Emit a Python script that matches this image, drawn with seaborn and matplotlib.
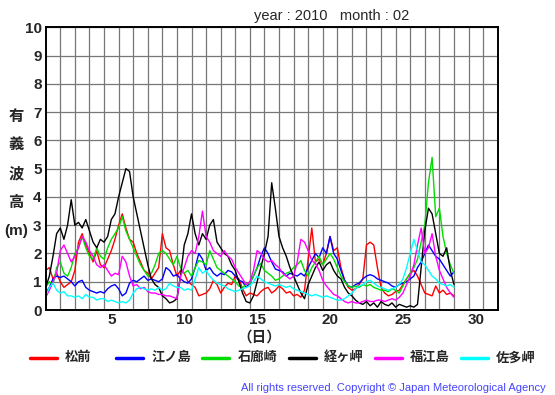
import numpy as np
import pandas as pd
import matplotlib
matplotlib.use("Agg")
import matplotlib.pyplot as plt
import seaborn as sns

# significant wave height, Feb 2010, one value every 6 hours (day 1 00h .. day 29 00h)
hours = np.arange(0, 28 * 24 + 1, 6)

matsumae = [1.4, 1.5, 1.1, 1.3, 1.0, 0.8, 0.9, 1.0, 1.4, 2.4, 2.7, 2.3, 2.0, 1.7, 2.1, 1.6,
            1.5, 1.8, 2.1, 2.5, 3.0, 3.4, 2.9, 2.5, 2.4, 2.0, 1.7, 1.4, 1.3, 1.1, 1.3, 1.5,
            2.7, 2.2, 2.1, 1.6, 1.2, 1.4, 1.3, 1.0, 0.9, 0.8, 0.5, 0.55, 0.6, 0.75, 1.05, 0.9,
            0.6, 0.8, 0.95, 0.9, 1.2, 1.1, 0.75, 0.5, 0.6, 0.55, 0.5, 0.65, 0.75, 0.8, 0.6, 0.7,
            0.85, 0.75, 0.6, 0.65, 0.5, 0.55, 0.45, 0.7, 1.8, 2.9, 1.7, 1.8, 1.6, 2.0, 2.6, 2.1,
            2.2, 1.5, 1.05, 0.8, 0.7, 0.75, 0.9, 1.1, 2.3, 2.4, 2.3, 1.5, 0.8, 0.6, 0.5, 0.55,
            0.65, 0.7, 0.9, 1.1, 1.3, 1.4, 1.2, 0.9, 0.6, 0.55, 0.5, 0.85, 0.6, 0.7, 0.55, 0.6,
            0.5]
enoshima = [0.6, 0.8, 1.1, 1.2, 1.15, 1.2, 1.1, 1.0, 0.85, 1.0, 1.05, 0.8, 0.7, 0.65, 0.6, 0.65,
            0.6, 0.75, 0.85, 0.9, 0.75, 0.5, 0.6, 0.95, 1.05, 1.0, 1.1, 1.2, 1.05, 1.1, 1.05, 1.0,
            1.1, 1.5, 1.4, 1.2, 1.25, 1.1, 1.0, 0.95, 1.1, 1.5, 2.0, 1.8, 1.4, 1.5, 1.3, 1.2,
            1.3, 1.25, 1.4, 1.35, 1.2, 1.05, 1.0, 0.8, 0.95, 1.2, 1.5, 1.9, 2.2, 2.0, 1.7, 1.45,
            1.4, 1.35, 1.2, 1.3, 1.25, 1.2, 1.3, 1.2, 1.5, 1.75, 2.0, 1.85, 2.2, 2.0, 2.6, 2.0,
            1.8, 1.4, 1.05, 0.85, 0.8, 0.9, 0.95, 1.1, 1.2, 1.25, 1.2, 1.1, 1.05, 1.0, 0.95, 0.85,
            0.8, 0.9, 0.95, 1.0, 1.1, 1.2, 1.5, 1.7, 2.0, 2.3, 2.1, 1.9, 1.8, 1.6, 1.4, 1.2,
            1.35]
irozaki = [0.8, 1.0, 0.9, 1.5, 1.7, 1.3, 1.2, 1.5, 2.0, 2.2, 2.6, 2.2, 1.9, 1.8, 2.2, 1.9,
           1.8, 2.2, 2.5, 2.7, 2.9, 3.3, 2.8, 2.5, 2.2, 1.9, 1.6, 1.4, 1.2, 1.3, 1.6, 2.0,
           2.1, 2.0, 1.8, 1.6, 1.9, 1.5, 1.3, 1.4, 1.2, 1.5, 1.75, 1.7, 1.6, 2.1, 1.8, 1.5,
           1.4, 1.3, 1.2, 1.1, 1.0, 0.85, 0.8, 0.9, 0.95, 1.2, 1.5, 1.65, 1.4, 1.3, 1.2, 1.05,
           1.1, 1.2, 1.3, 1.35, 1.5, 1.6, 1.75, 1.4, 1.2, 1.5, 1.7, 1.9, 1.6, 1.8, 2.0, 1.8,
           1.5, 1.2, 1.0, 0.85, 0.8, 0.85, 0.8, 0.9, 0.85, 0.9, 0.8, 0.75, 0.7, 0.7, 0.65, 0.75,
           0.7, 0.6, 0.85, 1.1, 1.3, 1.5, 1.8, 2.4, 3.0, 4.5, 5.4, 3.3, 3.6, 2.6, 2.0, 1.6,
           1.3]
kyogamisaki = [0.8, 1.2, 1.9, 2.7, 2.9, 2.5, 3.0, 3.9, 3.0, 3.1, 2.9, 3.2, 2.8, 2.4, 2.2, 2.5,
               2.4, 2.6, 3.2, 3.4, 4.0, 4.5, 5.0, 4.9, 4.0, 3.4, 2.8, 2.2, 1.6, 1.1, 0.9, 0.8,
               0.5, 0.4, 0.25, 0.3, 0.4, 1.2, 2.3, 2.7, 3.4, 2.7, 2.3, 2.7, 2.5, 3.0, 3.2, 2.4,
               2.2, 2.0, 1.9, 1.6, 1.4, 1.0, 0.6, 0.3, 0.25, 0.5, 1.0, 1.5, 2.0, 2.6, 4.5, 3.6,
               2.6, 2.2, 1.9, 1.5, 1.2, 0.9, 0.6, 0.4, 0.9, 1.2, 1.5, 1.7, 1.4, 1.6, 1.7, 1.4,
               1.2, 1.1, 0.8, 0.6, 0.5, 0.35, 0.25, 0.2, 0.3, 0.15, 0.25, 0.1, 0.3, 0.2, 0.15, 0.25,
               0.1, 0.2, 0.15, 0.1, 0.15, 0.1, 0.2, 1.5, 2.8, 3.6, 3.4, 2.7, 2.0, 1.9, 2.2, 1.4,
               0.9]
fukuejima = [0.45, 0.7, 1.0, 1.3, 2.1, 2.3, 2.0, 1.7, 1.9, 2.2, 2.6, 2.4, 2.1, 1.9, 1.6, 1.5,
             1.6, 1.4, 1.2, 1.3, 1.25, 1.9, 1.7, 1.2, 0.85, 0.9, 0.75, 0.8, 0.65, 0.6, 0.6, 0.55,
             0.55, 0.5, 0.5, 0.45, 0.4, 1.2, 1.5, 1.9, 2.1, 2.0, 2.6, 3.5, 2.6, 2.4, 2.1, 2.0,
             1.9, 2.1, 1.9, 1.8, 1.5, 1.3, 1.1, 0.9, 1.0, 1.4, 2.1, 2.0, 1.8, 1.7, 1.75, 1.6,
             1.5, 1.3, 1.2, 1.1, 1.2, 1.7, 2.5, 2.4, 2.1, 1.75, 1.65, 1.4, 1.05, 0.85, 0.7, 0.55,
             0.5, 0.4, 0.3, 0.25, 0.3, 0.25, 0.25, 0.3, 0.35, 0.3, 0.3, 0.35, 0.35, 0.3, 0.35, 0.4,
             0.35, 0.45, 0.6, 0.9, 1.2, 1.6, 2.3, 2.9, 2.0, 2.2, 2.7, 1.9, 1.4, 1.1, 0.8, 0.6,
             0.45]
satamisaki = [0.5, 0.8, 0.95, 0.7, 0.6, 0.65, 0.5, 0.5, 0.45, 0.5, 0.4, 0.55, 0.45, 0.45, 0.35, 0.4,
              0.4, 0.3, 0.35, 0.3, 0.25, 0.3, 0.25, 0.35, 0.6, 0.75, 0.8, 0.75, 0.7, 0.75, 0.7, 0.8,
              0.7, 0.75, 0.95, 0.85, 0.8, 0.8, 0.7, 0.75, 0.7, 1.1, 1.5, 1.3, 1.4, 1.2, 1.05, 0.95,
              0.9, 0.85, 0.75, 0.7, 0.65, 0.7, 0.75, 0.8, 0.85, 1.0, 1.2, 1.1, 1.0, 0.95, 0.9, 0.85,
              0.9, 0.85, 0.8, 0.85, 0.75, 0.7, 0.65, 0.6, 0.55, 0.5, 0.55, 0.5, 0.45, 0.5, 0.45, 0.4,
              0.35, 0.35, 0.4, 0.5, 0.6, 0.75, 0.85, 0.9, 1.0, 1.05, 0.95, 0.85, 0.8, 0.75, 0.7, 0.75,
              0.8, 0.9, 1.1, 1.5, 2.0, 2.5, 2.1, 1.7, 1.6, 1.4, 1.2, 1.1, 0.95, 0.9, 0.85, 0.9,
              0.8]

stations = ["松前", "江ノ島", "石廊崎", "経ヶ岬", "福江島", "佐多岬"]
colors = ["#ff0000", "#0000ff", "#00dd00", "#000000", "#ff00ff", "#00ffff"]
series = [matsumae, enoshima, irozaki, kyogamisaki, fukuejima, satamisaki]

day = 1 + hours / 24
df = pd.concat([pd.DataFrame({"day": day, "height": v, "station": s})
                for s, v in zip(stations, series)], ignore_index=True)

sns.set_style("white")
plt.rcParams["font.family"] = ["Liberation Sans", "Noto Sans CJK JP", "DejaVu Sans"]

fig = plt.figure(figsize=(5.55, 3.95), dpi=100)
ax = fig.add_axes([45.7 / 555, 1 - 310 / 395, 452 / 555, 282.7 / 395])

sns.lineplot(data=df, x="day", y="height", hue="station", hue_order=stations,
             palette=colors, linewidth=1.0, legend=False, ax=ax)

ax.set_xlim(1, 32)
ax.set_ylim(0, 10)
ax.set_xticks(np.arange(5.5, 31, 5))
ax.set_xticklabels(["5", "10", "15", "20", "25", "30"])
ax.set_xticks(np.arange(2, 32), minor=True)
ax.set_yticks(range(0, 11))
ax.tick_params(which="both", length=0, labelsize=11)
ax.tick_params(axis="y", pad=3)
ax.tick_params(axis="x", pad=2)
for lbl in ax.get_xticklabels() + ax.get_yticklabels():
    lbl.set_fontweight("bold")
ax.grid(which="minor", axis="x", color="#777777", linewidth=0.9)
ax.grid(which="major", axis="y", color="#777777", linewidth=0.9)
ax.set_axisbelow(True)
for sp in ax.spines.values():
    sp.set_color("black")
    sp.set_linewidth(1.4)
ax.set_xlabel("")
ax.set_ylabel("")

fig.text(332 / 555, 1 - 16 / 395, "year : 2010   month : 02", ha="center", va="center", fontsize=10.5)
fig.text(16 / 555, 1 - 174 / 395, "有\n義\n波\n高\n(m)", ha="center", va="center",
         fontsize=11, fontweight="bold", linespacing=2.3)
fig.text(259 / 555, 1 - 338 / 395, "（日）", ha="center", va="center", fontsize=10.5, fontweight="bold")

# legend row
for i, (s, c) in enumerate(zip(stations, colors)):
    x0 = 30 + i * 86.2
    fig.add_artist(plt.Line2D([x0 / 555, (x0 + 27) / 555], [1 - 358 / 395] * 2,
                              color=c, linewidth=2.5))
    fig.text((x0 + 35) / 555, 1 - 358 / 395, s, ha="left", va="center",
             fontsize=9.5, fontweight="bold")

fig.text(546 / 555, 1 - 388 / 395, "All rights reserved. Copyright © Japan Meteorological Agency",
         ha="right", va="center", fontsize=8, color="#4444ff")

fig.savefig("out.png", dpi=100)
